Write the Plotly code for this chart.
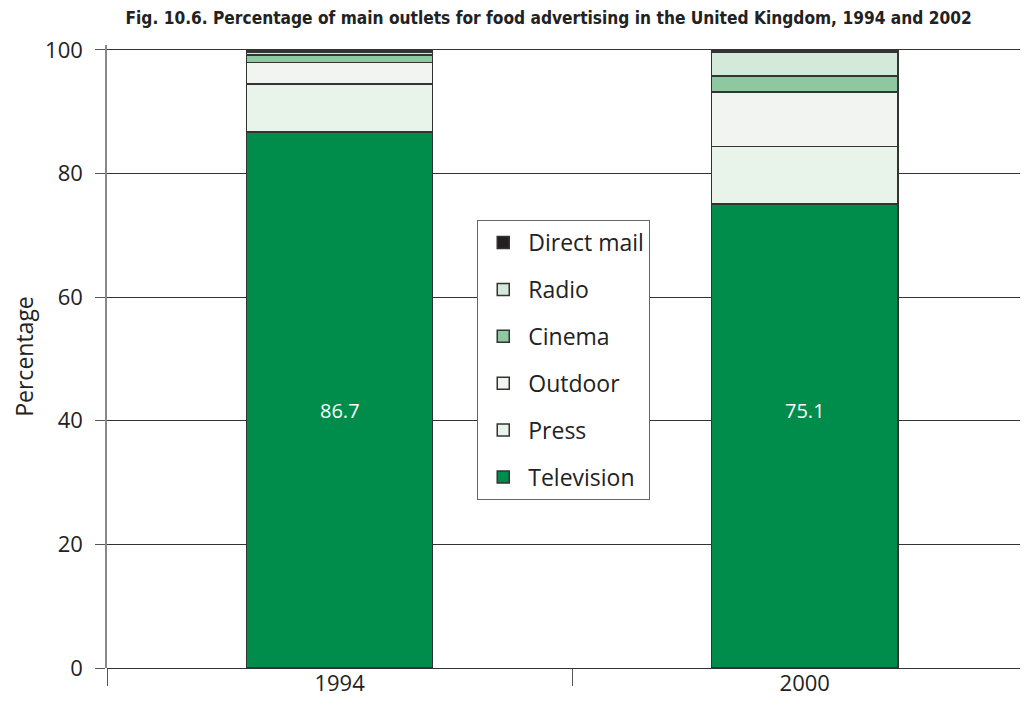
import plotly.graph_objects as go

years = ["1994", "2000"]
series_names = ["Television", "Press", "Outdoor", "Cinema", "Radio", "Direct mail"]
television = [86.7, 75.1]
press = [7.8, 9.3]
outdoor = [3.5, 8.8]
cinema = [1.2, 2.6]
radio = [0.5, 3.9]
direct_mail = [0.3, 0.3]
colors = ["#008C4B", "#E8F3EA", "#F2F4F2", "#8DC8A0", "#D3E9DA", "#231F20"]
label_values = ["86.7", "75.1"]

values = [television, press, outdoor, cinema, radio, direct_mail]
font = "Open Sans, Lato, sans-serif"

fig = go.Figure()
n = len(series_names)
for i, (name, vals, col) in enumerate(zip(series_names, values, colors)):
    fig.add_trace(go.Bar(
        x=years, y=vals, name=name, legendgroup=name, legendrank=(n - i) * 10,
        marker=dict(color=col, line=dict(color="#333333", width=1.5)),
        width=0.4,
    ))

for i, lab in enumerate(label_values):
    fig.add_annotation(x=i, y=41.6, text=lab, showarrow=False, xref="x", yref="y",
                       font=dict(color="white", size=20, family=font))

fig.update_layout(
    width=1020, height=699,
    barmode="stack",
    paper_bgcolor="white", plot_bgcolor="white",
    margin=dict(l=99, r=0, t=37, b=39, autoexpand=False),
    title=dict(text="<b>Fig. 10.6. Percentage of main outlets for food advertising in the United Kingdom, 1994 and 2002</b>",
               x=0.530, xanchor="center", y=0.986, yanchor="middle", automargin=False,
               font=dict(family="DejaVu Sans Condensed, Liberation Sans Narrow, sans-serif", size=17.2, color="#222")),
    font=dict(family=font, size=20, color="#222"),
    showlegend=True,
    legend=dict(
        x=0.402, y=0.719, xanchor="left", yanchor="top",
        bgcolor="white", bordercolor="#666", borderwidth=1,
        font=dict(size=23, family=font, color="#222"),
        traceorder="grouped", tracegroupgap=14, itemwidth=40,
    ),
    xaxis=dict(
        type="category",
        range=[-0.5, 1.48], showgrid=False, showline=False, zeroline=False,
        ticks="outside", tickson="boundaries", ticklen=17, tickcolor="#555",
        tickfont=dict(size=22, family=font, color="#222"), automargin=False,
    ),
    yaxis=dict(
        range=[0, 100.8], tickvals=[0, 20, 40, 60, 80, 100],
        showgrid=True, gridcolor="#333", gridwidth=1,
        zeroline=True, zerolinecolor="#333", zerolinewidth=1,
        showline=True, linecolor="#888", linewidth=1.5,
        ticks="outside", ticklen=10, tickcolor="#555", ticklabelstandoff=8,
        tickfont=dict(size=22, family=font, color="#222"), automargin=False,
        title=dict(text="Percentage", font=dict(size=23, family=font, color="#222"), standoff=8),
    ),
)

fig.write_html("out.html")
